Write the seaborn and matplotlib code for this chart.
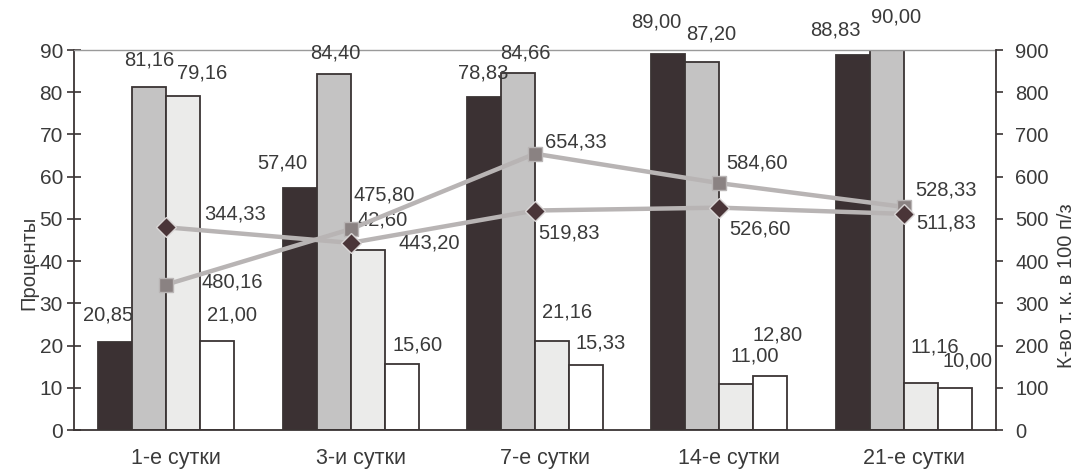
import numpy as np
import pandas as pd
import matplotlib
matplotlib.use("Agg")
import matplotlib.pyplot as plt
import matplotlib.transforms as mtransforms
import seaborn as sns

# Days of observation
days = ["1-е сутки", "3-и сутки", "7-е сутки", "14-е сутки", "21-е сутки"]

# Percentages (left axis), four bar series
pct_dark = [20.85, 57.40, 78.83, 89.00, 88.83]
pct_gray = [81.16, 84.40, 84.66, 87.20, 90.00]
pct_light = [79.16, 42.60, 21.16, 11.00, 11.16]
pct_white = [21.00, 15.60, 15.33, 12.80, 10.00]

# Counts per 100 fields of view (right axis), two line series
cnt_diamond = [480.16, 443.20, 519.83, 526.60, 511.83]
cnt_square = [344.33, 475.80, 654.33, 584.60, 528.33]

sns.set_theme(style="white")
plt.rcParams["font.family"] = ["Liberation Sans", "DejaVu Sans"]
FS = 14.5
TXT = "#3a3a3a"
EDGE = "#3a3434"

series_names = ["s1", "s2", "s3", "s4"]
bar_colors = ["#3b3133", "#c4c3c3", "#ebebea", "#ffffff"]
df = pd.DataFrame({
    "day": np.repeat([days], 4, axis=0).ravel(),
    "series": np.repeat(series_names, len(days)),
    "value": pct_dark + pct_gray + pct_light + pct_white,
})

fig = plt.figure(figsize=(10.77, 4.75), dpi=100)
fig.patch.set_facecolor("white")
ax = fig.add_axes([74 / 1077, 45 / 475, 922 / 1077, 380 / 475])

sns.barplot(data=df, x="day", y="value", hue="series", order=days,
            hue_order=series_names, palette=bar_colors, saturation=1,
            width=0.737, edgecolor=EDGE, linewidth=1.3, legend=False,
            errorbar=None, ax=ax)

ax.set_xlim(-0.5, len(days) - 0.5)
ax.set_ylim(0, 90)
ax.set_yticks(np.arange(0, 91, 10))
ax.set_xlabel("")
ax.set_ylabel("Проценты", fontsize=FS, color=TXT)
ax.yaxis.set_label_coords(-0.039, 0.44)

# Category boundaries as minor ticks on the x axis
ax.set_xticks(np.arange(-0.5, len(days)), minor=True)
ax.tick_params(axis="x", which="major", length=0, pad=13, labelsize=15.5,
               labelcolor=TXT)
ax.tick_params(axis="x", which="minor", direction="inout", length=10,
               width=1.2, color=EDGE)
ax.tick_params(axis="y", direction="inout", length=10, width=1.2, color=EDGE,
               pad=3, labelsize=15, labelcolor=TXT, left=True)
shift = mtransforms.ScaledTranslation(10 / 100, 0, fig.dpi_scale_trans)
for lab in ax.get_xticklabels():
    lab.set_transform(lab.get_transform() + shift)

for side in ["left", "bottom"]:
    ax.spines[side].set_color(EDGE)
    ax.spines[side].set_linewidth(1.3)
ax.spines["right"].set_visible(False)
ax.spines["top"].set_color("#9a9a9a")
ax.spines["top"].set_linestyle((0, (1, 1)))
ax.spines["top"].set_linewidth(1.0)

# Bar value labels (offsets in pixels from the top-centre of each bar)
bar_offsets = [
    [(-7, 27), (-17, 25), (-1, 24), (-12, 32), (-17, 25)],
    [(0, 27), (2, 21), (7, 20), (9, 28), (9, 33)],
    [(19, 23), (15, 30), (15, 29), (18, 28), (14, 36)],
    [(15, 26), (16, 19), (15, 22), (7, 41), (13, 27)],
]


def fmt(v):
    return f"{v:.2f}".replace(".", ",")


for cont, offs in zip(ax.containers, bar_offsets):
    for patch, (dx, dy) in zip(cont.patches, offs):
        xc = patch.get_x() + patch.get_width() / 2
        h = patch.get_height()
        ax.annotate(fmt(h), (xc, h), xytext=(dx, dy),
                    textcoords="offset pixels", ha="center", va="center",
                    fontsize=FS, color=TXT, annotation_clip=False)

# Secondary axis with the two count series
ax2 = ax.twinx()
xpos = np.arange(len(days))
line_kw = dict(color="#b8b4b4", linewidth=3.2, legend=False, sort=False)
sns.lineplot(x=xpos, y=cnt_square, ax=ax2, marker="s", markersize=10.5,
             markerfacecolor="#8a8282", markeredgecolor="#b9b5b5",
             markeredgewidth=1.0, **line_kw)
sns.lineplot(x=xpos, y=cnt_diamond, ax=ax2, marker="D", markersize=10.5,
             markerfacecolor="#4a3538", markeredgecolor="#d8d4d4",
             markeredgewidth=1.0, **line_kw)
ax2.set_xlim(-0.5, len(days) - 0.5)
ax2.set_ylim(0, 900)
ax2.set_yticks(np.arange(0, 901, 100))
ax2.set_ylabel("К-во т. к. в 100 п/з", fontsize=FS, color=TXT)
ax2.yaxis.set_label_coords(1.066, 0.38)
ax2.tick_params(axis="y", direction="out", length=5, width=1.2, color=EDGE,
                pad=9, labelsize=FS, labelcolor=TXT, right=True)
for side in ["left", "bottom", "top"]:
    ax2.spines[side].set_visible(False)
ax2.spines["right"].set_color(EDGE)
ax2.spines["right"].set_linewidth(1.3)

diamond_offsets = [(66, -55), (79, 0), (34, -22), (41, -21), (42, -9)]
square_offsets = [(69, 71), (34, 34), (41, 12), (38, 20), (42, 17)]
for vals, offs in [(cnt_diamond, diamond_offsets), (cnt_square, square_offsets)]:
    for x, v, (dx, dy) in zip(xpos, vals, offs):
        ax2.annotate(fmt(v), (x, v), xytext=(dx, dy),
                     textcoords="offset pixels", ha="center", va="center",
                     fontsize=FS, color=TXT, annotation_clip=False)

fig.savefig("out.png", dpi=100)
